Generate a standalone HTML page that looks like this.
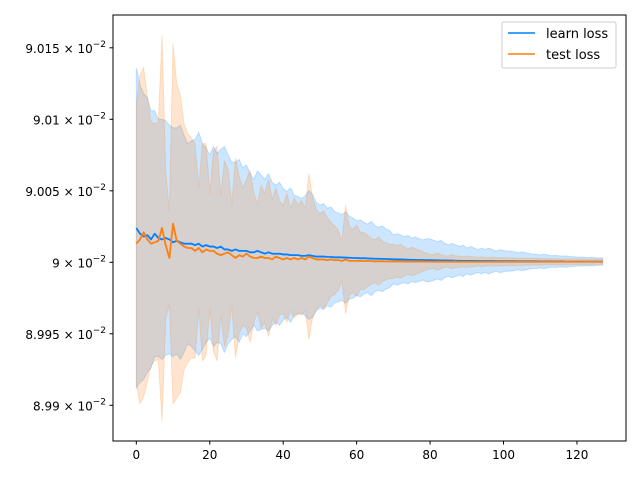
<!DOCTYPE html>
<html><head><meta charset="utf-8"><style>
html,body{margin:0;padding:0;background:#fff;width:640px;height:480px;overflow:hidden}
svg{display:block;font-family:"DejaVu Sans","Liberation Sans",sans-serif}
</style></head><body>
<svg id="chart" width="640" height="480" viewBox="0 0 640 480">
<rect x="0" y="0" width="640" height="480" fill="#fff"/>
<g id="bands"></g>
<g id="lines"></g>
<rect x="113" y="15" width="513" height="426" fill="none" stroke="#000" stroke-width="1"/>
<g id="xaxis"></g>
<g id="yaxis"></g>
<g>
<rect x="502" y="22" width="114" height="46" rx="2" fill="#fff" fill-opacity="0.8" stroke="#ccc"/>
<line x1="508" y1="33" x2="535" y2="33" stroke="#0080ff" stroke-width="1.5"/>
<text x="546" y="38" font-size="13" fill="#000">learn loss</text>
<line x1="508" y1="54" x2="535" y2="54" stroke="#ff7f0e" stroke-width="1.5"/>
<text x="546" y="59" font-size="13" fill="#000">test loss</text>
</g>
</svg>
<script>
// values in units of 1e-6 offset from 0.09
const learnMean = [24,20,18,19,16,20,17,16,17,16,14,15,14,13,13,13,12,13,11,12,11,11,10,11,9,9,8,9,8,8,8,7,7,8,7,6,7,6,6,6,5.5,5.5,5,5,5,4.5,4.5,5,4.5,4,4,4,3.8,3.7,3.5,3.5,3.4,3.3,3.2,3,3,2.8,2.9,2.7,2.6,2.5,2.5,2.4,2.3,2.2,2.1,2,2,1.9,1.8,1.8,1.7,1.6,1.6,1.5,1.5,1.4,1.4,1.3,1.3,1.2,1.2,1.1,1.1,1,1,1,1,0.9,0.9,0.9,0.9,0.9,0.8,0.8,0.8,0.8,0.8,0.8,0.7,0.7,0.7,0.7,0.7,0.7,0.6,0.6,0.6,0.6,0.6,0.6,0.6,0.5,0.5,0.5,0.5,0.5,0.5,0.5,0.5,0.5,0.5,0.5];
const learnStd = [112,104,100,96,90,86,83,84,82,80,80,79,82,76,70,72,74,78,72,68,64,70,66,68,72,66,62,61,64,58,60,55,51,56,54,52,55,50,48,50,46,44,47,42,41,40,42,45,43,38,36,37,34,35,32,31,30,32,29,28,26,27,25,24,26,23,22,23,21,20,17,18,17,16,17,15,16,15,14,15,15,14,13,14,12,11,12,11,10,11,9,10,9,8,9,8,9,8,7,8,7.5,7,7,6.5,6,6.5,6,5.5,5,5,4.5,5,4.5,4,4.2,4,3.8,4,3.5,3.5,3,3.2,3,2.8,3,2.7,2.6,2.5];
const testMean = [13,16,21,16,13,14,15,24,12,3,27,15,13,11,10,10,8,10,7,9,8,8,6,5,6,7,5,3,5,4,6,4,3,3,4,3,3,2,4,3,2,3,2,3,2,3,2,4,3,2,2,2,1.5,2,1.5,1.5,1,2,1,1,1,1,0.8,1,0.8,0.7,0.8,0.7,0.6,0.7,0.6,0.6,0.7,0.5,0.6,0.5,0.5,0.6,0.5,0.5,0.5,0.4,0.5,0.4,0.5,0.4,0.4,0.5,0.4,0.4,0.4,0.4,0.4,0.4,0.4,0.4,0.4,0.4,0.4,0.4,0.4,0.4,0.4,0.4,0.4,0.4,0.4,0.4,0.4,0.4,0.4,0.4,0.4,0.4,0.4,0.4,0.4,0.4,0.4,0.4,0.4,0.4,0.4,0.4,0.4,0.4,0.4,0.4];
const testStd = [98,115,115,100,85,83,83,135,52,32,126,110,104,86,80,77,75,42,76,74,40,70,75,42,65,58,35,70,55,48,52,60,45,38,50,45,55,42,48,40,38,45,36,42,38,40,36,58,42,35,32,34,30,26,24,21,14,38,24,22,25,20,20,18,16,15,17,14,13,12,12,11,12,10,9,10,9,8,7,6,5,5,6,5,4,4,5,4,4,3.5,4,3.5,3.5,3,3.5,3,3,3.2,3,2.8,3,2.8,2.6,2.8,2.5,2.6,2.4,2.5,2.4,2.3,2.4,2.2,2.3,2.2,2.1,2.2,2,2.1,2,2,2,1.9,2,1.9,1.8,1.9,1.8,1.8];
const xTicks = [0,20,40,60,80,100,120];
const yTicks = [8.99,8.995,9,9.005,9.01,9.015];

const NS = "http://www.w3.org/2000/svg";
const X = v => 113 + (v + 6.35) * 3.672;
const Y = d => 262.3 - d * 1.43;           // d in 1e-6
const YT = t => Y((t - 9) * 10000);          // t in 1e-2

function band(mean, std, fill, name) {
  let up = mean.map((m,i) => X(i).toFixed(2) + "," + Y(m + std[i]).toFixed(2));
  let lo = mean.map((m,i) => X(i).toFixed(2) + "," + Y(m - std[i]).toFixed(2)).reverse();
  const p = document.createElementNS(NS, "polygon");
  p.setAttribute("points", up.concat(lo).join(" "));
  p.setAttribute("fill", fill);
  p.setAttribute("fill-opacity", "0.2");
  p.setAttribute("stroke", fill);
  p.setAttribute("stroke-opacity", "0.2");
  
  
  document.getElementById("bands").appendChild(p);
}
function line(mean, color, name) {
  const p = document.createElementNS(NS, "polyline");
  p.setAttribute("points", mean.map((m,i) => X(i).toFixed(2) + "," + Y(m).toFixed(2)).join(" "));
  p.setAttribute("fill", "none");
  p.setAttribute("stroke", color);
  p.setAttribute("stroke-width", "1.8");
  p.setAttribute("stroke-linejoin", "round");
  
  
  document.getElementById("lines").appendChild(p);
}
band(learnMean, learnStd, "#0080ff", "learn-loss-band");
band(testMean, testStd, "#ff7f0e", "test-loss-band");
line(learnMean, "#0080ff", "learn-loss-line");
line(testMean, "#ff7f0e", "test-loss-line");

const xa = document.getElementById("xaxis");
xTicks.forEach(t => {
  const l = document.createElementNS(NS, "line");
  l.setAttribute("x1", X(t)); l.setAttribute("x2", X(t));
  l.setAttribute("y1", 441); l.setAttribute("y2", 444.5);
  l.setAttribute("stroke", "#000");
  
  
  xa.appendChild(l);
  const tx = document.createElementNS(NS, "text");
  tx.setAttribute("x", X(t)); tx.setAttribute("y", 459);
  tx.setAttribute("text-anchor", "middle");
  tx.setAttribute("font-size", "12");
  tx.textContent = t;
  
  
  xa.appendChild(tx);
});
const ya = document.getElementById("yaxis");
yTicks.forEach(t => {
  const y = YT(t);
  const l = document.createElementNS(NS, "line");
  l.setAttribute("x1", 109.5); l.setAttribute("x2", 113);
  l.setAttribute("y1", y); l.setAttribute("y2", y);
  l.setAttribute("stroke", "#000");
  
  
  ya.appendChild(l);
  const tx = document.createElementNS(NS, "text");
  tx.setAttribute("x", 106); tx.setAttribute("y", y + 5);
  tx.setAttribute("text-anchor", "end");
  tx.setAttribute("font-size", "12");
  const a = document.createElementNS(NS, "tspan");
  a.textContent = t + " \u00d7 10";
  const b = document.createElementNS(NS, "tspan");
  b.setAttribute("dy", "-6"); b.setAttribute("font-size", "9");
  b.textContent = "\u22122";
  tx.appendChild(a); tx.appendChild(b);
  
  
  ya.appendChild(tx);
});
</script>
</body></html>
